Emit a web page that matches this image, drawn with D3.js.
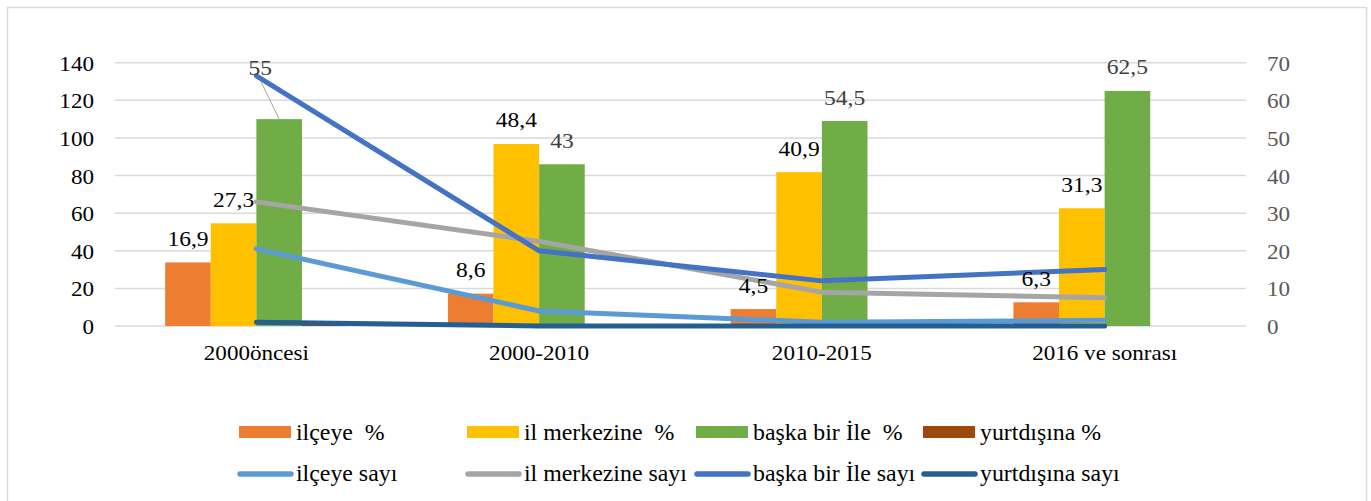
<!DOCTYPE html>
<html>
<head>
<meta charset="utf-8">
<script src="https://cdn.jsdelivr.net/npm/d3@7/dist/d3.min.js"></script>
<style>
  html, body { margin: 0; padding: 0; background: #ffffff; }
  svg { display: block; }
</style>
</head>
<body>
<svg id="chart" width="1371" height="501"></svg>
<script>
// ---- data ----
const categories = ["2000öncesi", "2000-2010", "2010-2015", "2016 ve sonrası"];
const barSeriesNames = ["ilçeye  %", "il merkezine  %", "başka bir İle  %", "yurtdışına %"];
const lineSeriesNames = ["ilçeye sayı", "il merkezine sayı", "başka bir İle sayı", "yurtdışına sayı"];
const ilceyePct = [16.9, 8.6, 4.5, 6.3];
const ilMerkezinePct = [27.3, 48.4, 40.9, 31.3];
const baskaIlePct = [55, 43, 54.5, 62.5];
const yurtdisiPct = [0.8, 0, 0, 0];
const ilceyeSayi = [41, 8, 2, 3];
const ilMerkezineSayi = [66, 45, 18, 15];
const baskaIleSayi = [133, 40, 24, 30];
const yurtdisiSayi = [2, 0, 0, 0];
const leftTicks = [0, 20, 40, 60, 80, 100, 120, 140];
const rightTicks = [0, 10, 20, 30, 40, 50, 60, 70];

// ---- styles ----
const FONT = "Liberation Serif";
const barColors = ["#ED7D31", "#FFC000", "#70AD47", "#9E480E"];
const lineColors = ["#5B9BD5", "#A5A5A5", "#4472C4", "#255E91"];
const labelColors = ["#000000", "#000000", "#404040", "#000000"];
const showBarLabel = [true, true, true, false];

const barData = [ilceyePct, ilMerkezinePct, baskaIlePct, yurtdisiPct];
const lineData = [ilceyeSayi, ilMerkezineSayi, baskaIleSayi, yurtdisiSayi];

const svg = d3.select("#chart");
const plot = { left: 115, right: 1246, top: 62.7, bottom: 326 };

// outer chart border
svg.append("rect")
  .attr("x", 7.5).attr("y", 7.5).attr("width", 1359).attr("height", 520)
  .attr("fill", "none").attr("stroke", "#D9D9D9").attr("stroke-width", 1.5);

const x0 = d3.scaleBand().domain(categories).range([plot.left, plot.right]).padding(0);
const x1 = d3.scaleBand().domain(d3.range(4)).range([0, x0.bandwidth()]).paddingInner(0).paddingOuter(1.1);
const yL = d3.scaleLinear().domain([0, 140]).range([plot.bottom, plot.top]);
const yR = d3.scaleLinear().domain([0, 70]).range([plot.bottom, plot.top]);

const textLayer = svg.append("g").attr("class", "texts");
function stext(x, y, str, o) {
  const g = textLayer.append("g").attr("transform", `translate(${x},${y}) scale(${o.sx || 1},1)`);
  return g.append("text")
    .attr("x", 0).attr("y", 0)
    .attr("text-anchor", o.anchor || "middle")
    .attr("font-size", o.size || 21)
    .style("font-family", FONT)
    .attr("fill", o.fill || "#000")
    .text(str.replace(/  /g, " \u00A0"));
}

// gridlines
svg.insert("g", ".texts").selectAll("line").data(leftTicks).join("line")
  .attr("x1", plot.left).attr("x2", plot.right)
  .attr("y1", d => yL(d)).attr("y2", d => yL(d))
  .attr("stroke", "#D9D9D9").attr("stroke-width", 1.5);

// axes: d3 axes give tick positions; labels drawn in serif
const gL = svg.insert("g", ".texts").attr("transform", `translate(${plot.left},0)`)
  .call(d3.axisLeft(yL).tickValues(leftTicks).tickSize(0));
gL.select(".domain").remove();
gL.selectAll(".tick text").remove();
leftTicks.forEach(d => stext(plot.left - 21, yL(d) + 8, String(d), { anchor: "end", sx: 1.1, fill: "#000" }));

const gR = svg.insert("g", ".texts").attr("transform", `translate(${plot.right},0)`)
  .call(d3.axisRight(yR).tickValues(rightTicks).tickSize(0));
gR.select(".domain").remove();
gR.selectAll(".tick text").remove();
rightTicks.forEach(d => stext(plot.right + 21, yR(d) + 8, String(d), { anchor: "start", sx: 1.1, fill: "#595959" }));

const gX = svg.insert("g", ".texts").attr("transform", `translate(0,${plot.bottom})`)
  .call(d3.axisBottom(x0).tickSize(0));
gX.select(".domain").remove();
gX.selectAll(".tick text").remove();
categories.forEach(c => stext(x0(c) + x0.bandwidth() / 2, plot.bottom + 34, c, { anchor: "middle", sx: 1.1 }));

// bars
const barsG = svg.insert("g", ".texts");
barData.forEach((vals, si) => {
  barsG.selectAll(null).data(vals.map((v, ci) => ({ v, c: categories[ci] }))).join("rect")
    .attr("x", d => x0(d.c) + x1(si))
    .attr("width", x1.bandwidth())
    .attr("y", d => yR(d.v))
    .attr("height", d => yR(0) - yR(d.v))
    .attr("fill", barColors[si]);
});

// lines
const lineGen = d3.line()
  .x(d => x0(d.c) + x0.bandwidth() / 2)
  .y(d => yL(d.v));
const linesG = svg.insert("g", ".texts");
lineData.forEach((vals, si) => {
  linesG.append("path")
    .datum(vals.map((v, ci) => ({ v, c: categories[ci] })))
    .attr("d", lineGen)
    .attr("fill", "none")
    .attr("stroke", lineColors[si])
    .attr("stroke-width", 5)
    .attr("stroke-linecap", "round")
    .attr("stroke-linejoin", "round");
});

// bar data labels
const labelShift = { "2|0": { dx: -19, dy: -27.5 } };
barData.forEach((vals, si) => {
  if (!showBarLabel[si]) return;
  vals.forEach((v, ci) => {
    const cx = x0(categories[ci]) + x1(si) + x1.bandwidth() / 2;
    const by = yR(v) - 16.5;
    const sh = labelShift[si + "|" + ci] || { dx: 0, dy: 0 };
    if (sh.dx || sh.dy) {
      linesG.append("line")
        .attr("x1", cx + sh.dx + 1).attr("y1", by + sh.dy + 7)
        .attr("x2", cx).attr("y2", yR(v))
        .attr("stroke", "#A6A6A6").attr("stroke-width", 1);
    }
    stext(cx + sh.dx, by + sh.dy, String(v).replace(".", ","),
      { anchor: "middle", sx: 1.12, fill: labelColors[si] });
  });
});

// legend
const legX = [239, 467, 696, 923];
const legG = svg.insert("g", ".texts");
barSeriesNames.forEach((n, i) => {
  legG.append("rect").attr("x", legX[i]).attr("y", 426).attr("width", 52).attr("height", 12)
    .attr("fill", barColors[i]);
  stext(legX[i] + 57, 439.5, n, { anchor: "start", size: 22.5, sx: 1.06 });
});
lineSeriesNames.forEach((n, i) => {
  legG.append("line").attr("x1", legX[i] + 1).attr("x2", legX[i] + 52)
    .attr("y1", 474).attr("y2", 474)
    .attr("stroke", lineColors[i]).attr("stroke-width", 5.5).attr("stroke-linecap", "round");
  stext(legX[i] + 57, 481, n, { anchor: "start", size: 22.5, sx: 1.06 });
});
</script>
</body>
</html>
